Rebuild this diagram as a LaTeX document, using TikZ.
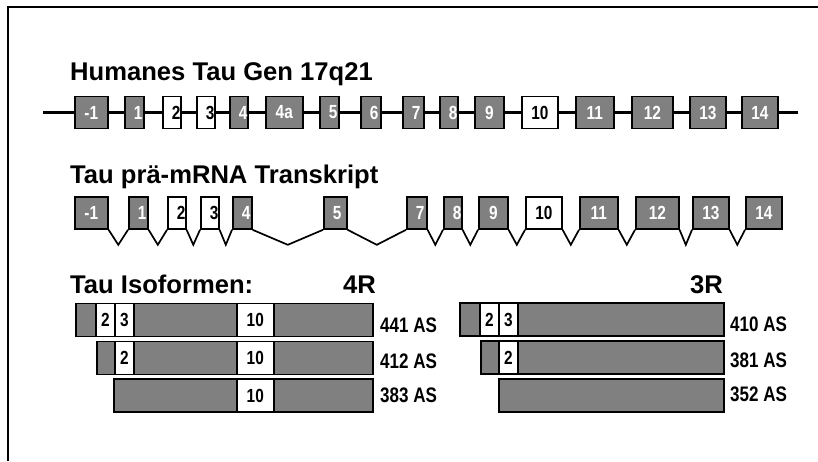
\documentclass[tikz,border=0pt]{standalone}
\usepackage{fontspec}
\setmainfont{Liberation Sans}
\newfontfamily\narrowsf[FakeStretch=0.81]{Liberation Sans}
\usetikzlibrary{calc}

\begin{document}
\begin{tikzpicture}[x=1pt,y=-1pt]

		\tikzset{
			heading/.style={
				anchor=base west,
				inner sep=0pt,
				font=\fontsize{25.6}{30}\selectfont\bfseries
			},
			exon/.style={
				draw,
				line width=1.6pt,
				minimum height=32pt,
				inner xsep=9pt,
				inner ysep=0pt,
				align=center,
				anchor=west,
				font=\narrowsf\fontsize{19}{21}\selectfont\bfseries
			},
			bar/.style={
				draw,
				line width=1.6pt,
				fill=gray,
				minimum height=33pt,
				inner sep=0pt,
				anchor=west
			},
			seg/.style={
				bar,
				fill=white,
				font=\narrowsf\fontsize{19}{21}\selectfont\bfseries
			},
			aslabel/.style={
				anchor=base west,
				inner sep=0pt,
				font=\narrowsf\fontsize{21}{24}\selectfont\bfseries
			},
			gene/.style={line width=3.5pt},
			intron/.style={line width=1.7pt}
		}

		\useasboundingbox (0,0) rectangle (818,461);
		\draw[line width=2pt] (8,461) -- (8,7) -- (818,7);

		% gene
		\node[heading] (gentitle) at (70,80) {Humanes Tau Gen 17q21};

		\foreach \n/\l/\r/\t/\f/\c in {1/74/107/-1/gray/white, 2/124/143/1/gray/white,
			3/162/180/2/white/black, 4/196/214/3/white/black, 5/229/247/4/gray/white,
			6/265/302/4a/gray/white, 7/319/338/5/gray/white, 8/360/380/6/gray/white,
			9/402/423/7/gray/white, 10/439/457/8/gray/white, 11/474/503/9/gray/white,
			12/521/557/10/white/black, 13/575/613/11/gray/white, 14/631/672/12/gray/white,
			15/689/725/13/gray/white, 16/741/777/14/gray/white}
		{
			\pgfmathsetmacro\w{\r-\l}
			\pgfmathsetmacro\tw{max(\w-18,0)}
			\node[exon,fill=\f,text=\c,minimum width=\w pt,text width=\tw pt] (g\n) at (\l,112.5) {\mbox{\t}};
		}

		\coordinate (gstart) at (43,112.5);
		\coordinate (gend) at (798,112.5);
		\draw[gene] (gstart) -- (g1.west);
		\foreach \i [remember=\i as \p (initially 1)] in {2,...,16}
			\draw[gene] (g\p.east) -- (g\i.west);
		\draw[gene] (g16.east) -- (gend);

		% pre-mRNA
		\node[heading] (mrnatitle) at (70,183) {Tau prä-mRNA Transkript};

		\foreach \n/\l/\r/\t/\f/\c in {1/74/107/-1/gray/white, 2/128/147/1/gray/white,
			3/167/184/2/white/black, 4/200/218/3/white/black, 5/232/251/4/gray/white,
			6/323/346/5/gray/white, 7/406/426/7/gray/white, 8/443/461/8/gray/white,
			9/478/507/9/gray/white, 10/525/561/10/white/black, 11/579/617/11/gray/white,
			12/635/678/12/gray/white, 13/692/728/13/gray/white, 14/745/781/14/gray/white}
		{
			\pgfmathsetmacro\w{\r-\l}
			\pgfmathsetmacro\tw{max(\w-18,0)}
			\node[exon,fill=\f,text=\c,minimum width=\w pt,text width=\tw pt] (t\n) at (\l,213) {\mbox{\t}};
		}

		\foreach \i [remember=\i as \p (initially 1)] in {2,...,14}
			\draw[intron] (t\p.south east) -- ($(t\p.south east)!0.5!(t\i.south west)+(0,15)$) -- (t\i.south west);

		% isoforms
		\node[heading] (isotitle) at (70,293) {Tau Isoformen:};
		\node[heading] (fourR) at (343,293) {4R};
		\node[heading] (threeR) at (690,293) {3R};

		\node[bar,minimum width=297pt] (a441) at (75,320) {};
		\node[seg,minimum width=19pt] (a441e2) at (95,320) {2};
		\node[seg,minimum width=19pt] (a441e3) at (114,320) {3};
		\node[seg,minimum width=37pt] (a441e10) at (236,320) {10};
		\node[aslabel] (l441) at (380,332) {441 AS};

		\node[bar,minimum width=276pt] (a412) at (96,358) {};
		\node[seg,minimum width=19pt] (a412e2) at (114,358) {2};
		\node[seg,minimum width=37pt] (a412e10) at (236,358) {10};
		\node[aslabel] (l412) at (380,368) {412 AS};

		\node[bar,minimum width=259pt] (a383) at (113,395.5) {};
		\node[seg,minimum width=37pt] (a383e10) at (236,395.5) {10};
		\node[aslabel] (l383) at (380,402) {383 AS};

		\node[bar,minimum width=264pt] (a410) at (459,319.5) {};
		\node[seg,minimum width=19pt] (a410e2) at (479,319.5) {2};
		\node[seg,minimum width=19pt] (a410e3) at (498,319.5) {3};
		\node[aslabel] (l410) at (730,331) {410 AS};

		\node[bar,minimum width=243pt] (a381) at (480,357.5) {};
		\node[seg,minimum width=19pt] (a381e2) at (498,357.5) {2};
		\node[aslabel] (l381) at (730,367) {381 AS};

		\node[bar,minimum width=225pt] (a352) at (498,395.5) {};
		\node[aslabel] (l352) at (730,401) {352 AS};

	\end{tikzpicture}
\end{document}
